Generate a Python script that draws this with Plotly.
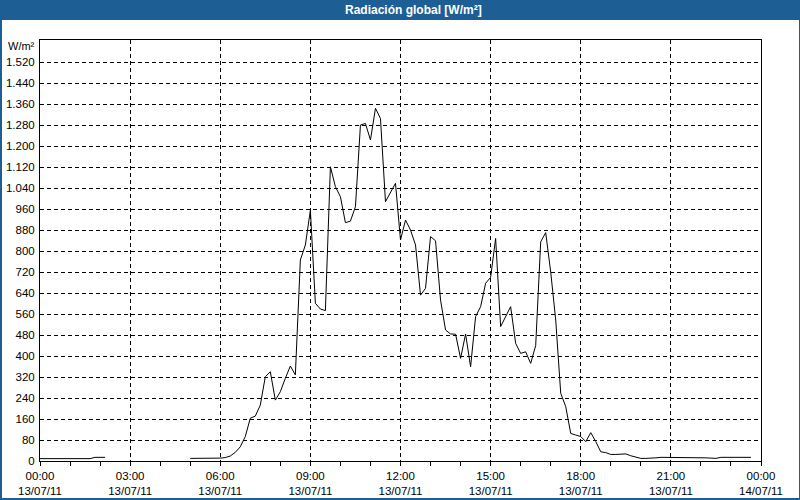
import plotly.graph_objects as go
import pandas as pd

# ---- data (10-minute readings, W/m²) ----
seg1_start = "2011-07-13 00:00"
seg1_values = [9, 9, 9, 9, 9, 9, 9, 9, 9, 9, 9, 14, 14, 14]

seg2_start = "2011-07-13 05:00"
seg2_values = [
    10, 10, 10, 10, 10, 10, 11, 13, 19, 33,          # 05:00 - 06:30
    54, 93, 163, 171, 213, 321, 340, 232, 264, 315,  # 06:40 - 08:10
    362, 328, 766, 823, 955, 601, 579, 573, 1121, 1045,  # 08:20 - 09:50
    1007, 908, 914, 969, 1280, 1286, 1223, 1344, 1305, 988,  # 10:00 - 11:30
    1025, 1058, 842, 918, 880, 823, 632, 658, 855, 839,  # 11:40 - 13:10
    613, 499, 484, 483, 391, 484, 359, 550, 588, 677,  # 13:20 - 14:50
    700, 848, 512, 550, 588, 448, 410, 416, 372, 440,  # 15:00 - 16:30
    835, 870, 720, 537, 258, 207, 105, 99, 93, 74,   # 16:40 - 18:10
    108, 74, 35, 32, 25, 25, 26, 27, 20, 16,         # 18:20 - 19:50
    10, 10, 10, 12, 14, 14, 14, 14, 14, 14,          # 20:00 - 21:30
    14, 13, 12, 12, 11, 10, 14, 14, 14, 14,          # 21:40 - 23:10
    14, 14, 14,                                      # 23:20 - 23:40
]

y_ticks = list(range(0, 1600, 80))
title_text = "Radiación global [W/m²]"
unit_text = "W/m²"

t1 = list(pd.date_range(seg1_start, periods=len(seg1_values), freq="10min"))
t2 = list(pd.date_range(seg2_start, periods=len(seg2_values), freq="10min"))
x = t1 + [t1[-1] + pd.Timedelta(minutes=5)] + t2
y = seg1_values + [None] + seg2_values

W, H = 800, 500
L, R, T, B = 40, 39, 40, 39
PW, PH = W - L - R, H - T - B
BLUE = "#1D5E95"
FONT = "Liberation Sans, Arial, sans-serif"


def px_x(p):
    return (p - L) / PW


def px_y(p):
    return (H - B - p) / PH


fig = go.Figure()
fig.add_trace(go.Scatter(
    x=x, y=y, mode="lines",
    line=dict(color="black", width=1),
    connectgaps=False, hoverinfo="skip", showlegend=False,
))

fig.update_layout(
    width=W, height=H, autosize=False,
    margin=dict(l=L, r=R, t=T, b=B, pad=0, autoexpand=False),
    paper_bgcolor="white", plot_bgcolor="white",
    separators=",.",
    font=dict(family=FONT, size=11, color="black"),
    showlegend=False,
    xaxis=dict(
        type="date", automargin=False,
        range=["2011-07-13 00:00", "2011-07-14 00:00"],
        dtick=3 * 3600 * 1000,
        tick0="2011-07-13 00:00",
        tickformat="%H:%M<br>%d/%m/%y",
        ticks="outside", ticklen=4, tickcolor="black", tickwidth=1,
        minor=dict(dtick=3600 * 1000, ticks="outside", ticklen=4,
                   tickcolor="black", showgrid=False),
        showgrid=True, gridcolor="black", gridwidth=1, griddash="4px,3px",
        showline=True, linecolor="black", linewidth=1, mirror=True,
        zeroline=False,
        tickfont=dict(family=FONT, size=11.5, color="black"),
        fixedrange=True,
    ),
    yaxis=dict(
        automargin=False,
        range=[0, 1604],
        tickvals=y_ticks,
        tickformat=",d",
        ticks="", ticklabelstandoff=2,
        showgrid=True, gridcolor="black", gridwidth=1, griddash="4px,3px",
        showline=True, linecolor="black", linewidth=1, mirror=True,
        zeroline=False,
        tickfont=dict(family=FONT, size=11.5, color="black"),
        fixedrange=True,
    ),
    shapes=[
        # title bar
        dict(type="rect", xref="paper", yref="paper", layer="above",
             x0=px_x(0), x1=px_x(W), y0=px_y(20), y1=px_y(0),
             fillcolor=BLUE, line=dict(width=0)),
        # left border
        dict(type="rect", xref="paper", yref="paper", layer="above",
             x0=px_x(0), x1=px_x(2), y0=px_y(H), y1=px_y(0),
             fillcolor=BLUE, line=dict(width=0)),
        # right border
        dict(type="rect", xref="paper", yref="paper", layer="above",
             x0=px_x(W - 1), x1=px_x(W), y0=px_y(H), y1=px_y(0),
             fillcolor=BLUE, line=dict(width=0)),
        # bottom border
        dict(type="rect", xref="paper", yref="paper", layer="above",
             x0=px_x(0), x1=px_x(W), y0=px_y(H), y1=px_y(H - 2),
             fillcolor=BLUE, line=dict(width=0)),
    ],
    annotations=[
        dict(text=f"<b>{title_text}</b>", xref="paper", yref="paper",
             x=px_x(413), y=px_y(10), xanchor="center", yanchor="middle",
             showarrow=False, font=dict(family=FONT, size=12, color="white")),
        dict(text=unit_text, xref="paper", yref="paper",
             x=px_x(37), y=px_y(46), xanchor="right", yanchor="middle",
             showarrow=False, font=dict(family=FONT, size=11, color="black")),
    ],
)

fig.write_html(
    "out.html",
    config=dict(displayModeBar=False),
    post_script="document.body.style.margin='0';document.body.style.overflow='hidden';",
)
